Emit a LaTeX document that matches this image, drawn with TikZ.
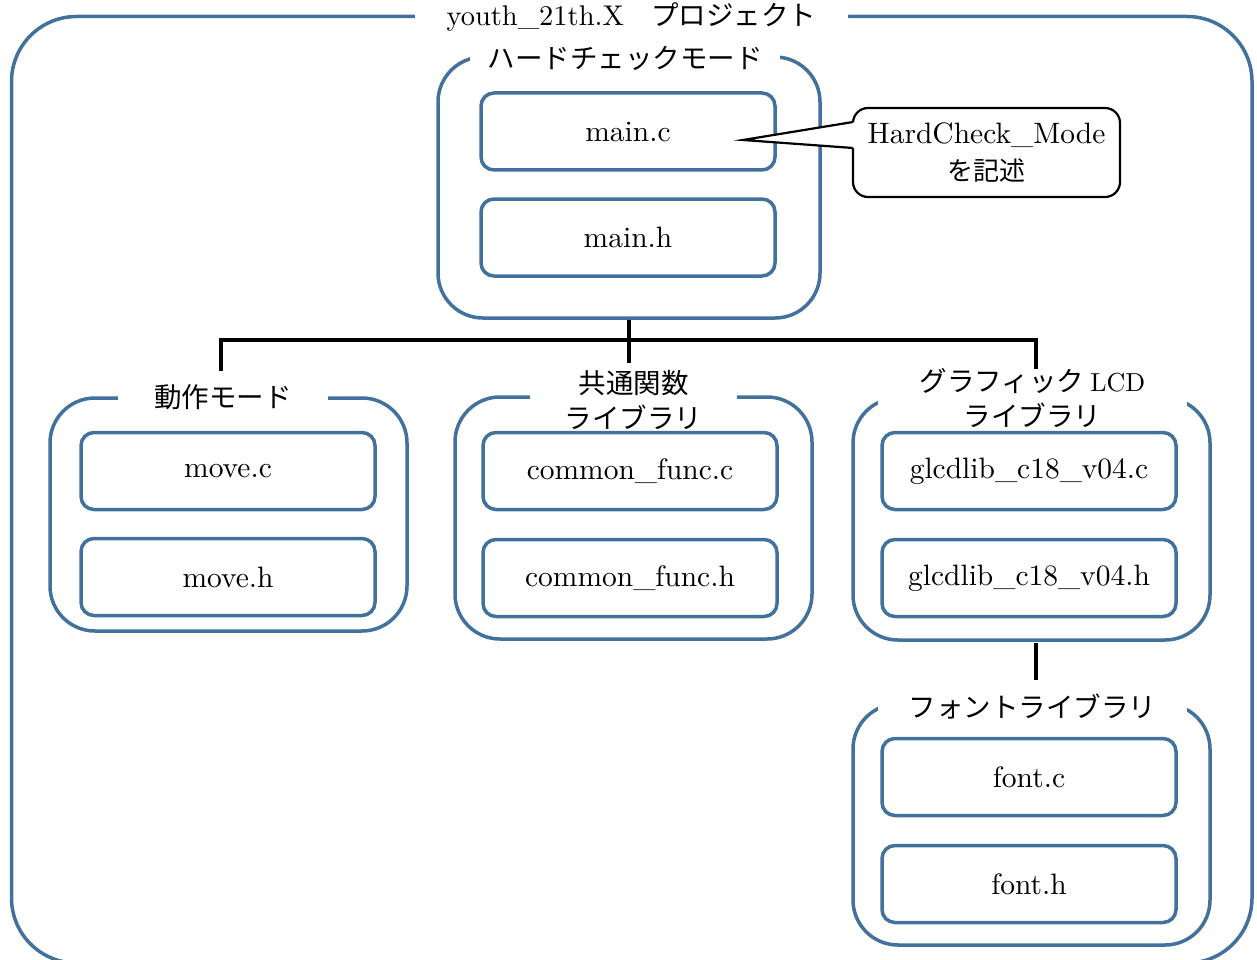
\documentclass[tikz,border=0pt]{standalone}
\usepackage{fontspec}
\setmainfont{lmroman10-regular}[Extension=.otf]
\newfontfamily\jp{Noto Sans CJK JP}
\definecolor{frameblue}{RGB}{65,113,156}
\begin{document}
\begin{tikzpicture}[x=1pt,y=-1pt,
  grp/.style={draw=frameblue, line width=3.5pt, rounded corners=45pt, inner sep=0pt},
  outerframe/.style={draw=frameblue, line width=3.5pt, rounded corners=65pt, inner sep=0pt},
  ttl/.style={fill=white, inner xsep=0pt, inner ysep=2pt, align=center,
    font=\jp\fontsize{27.5}{35}\selectfont, minimum width=#1},
  filebox/.style={draw=frameblue, line width=3.5pt, rounded corners=13pt,
    minimum width=294pt, minimum height=77pt, inner sep=0pt,
    font=\rmfamily\fontsize{29.5}{35}\selectfont},
  tree/.style={draw=black, line width=3.5pt},
  callout/.style={draw=black, line width=2.2pt, rounded corners=15pt, fill=white,
    minimum width=267pt, minimum height=89pt, inner sep=0pt, align=center,
    font=\rmfamily\fontsize{29.5}{37}\selectfont}
]
\useasboundingbox (0,0) rectangle (1257,960);

% outer project frame
\node[outerframe, minimum width=1240.5pt, minimum height=946.5pt] (proj) at (631.75,489.75) {};

% groups
\node[grp, minimum width=382pt, minimum height=261pt] (hc) at (629,187.5) {};
\node[grp, minimum width=357pt, minimum height=233pt] (mode) at (228.5,514.5) {};
\node[grp, minimum width=357pt, minimum height=242pt] (com) at (633.5,518) {};
\node[grp, minimum width=357pt, minimum height=242pt] (lcd) at (1031.5,519) {};
\node[grp, minimum width=357pt, minimum height=241pt] (fnt) at (1031.5,824.5) {};

% titles (white background opens a gap in the frames)
\node[ttl=433pt] (projT) at (631.5,17) {{\rmfamily\fontsize{28.5}{32}\selectfont youth\_21th.X}　プロジェクト};
\node[ttl=310pt] (hcT) at (625,58) {ハードチェックモード};
\node[ttl=210pt] (modeT) at (223,397) {動作モード};
\node[ttl=207pt] (comT) at (633.5,399.5) {共通関数\\ライブラリ};
\node[ttl=309pt] (lcdT) at (1032.5,398.5) {グラフィック {\rmfamily\fontsize{26}{35}\selectfont LCD}\\ライブラリ};
\node[ttl=309pt] (fntT) at (1032.5,707) {フォントライブラリ};

% files
\node[filebox] (mainc) at (628,131.5) {main.c};
\node[filebox] (mainh) at (628,237.5) {main.h};
\node[filebox] (movec) at (228,471) {move.c};
\node[filebox] (moveh) at (228,577) {move.h};
\node[filebox] (comc) at (630,471) {common\_func.c};
\node[filebox] (comh) at (630,578) {common\_func.h};
\node[filebox] (glc) at (1029,471) {glcdlib\_c18\_v04.c};
\node[filebox] (glh) at (1029,578) {glcdlib\_c18\_v04.h};
\node[filebox] (fc) at (1029,777) {font.c};
\node[filebox] (fh) at (1029,884) {font.h};

% tree connectors
\coordinate (jL) at (221,340);
\coordinate (jR) at (1036,340);
\coordinate (dL) at (221,371);
\coordinate (dM) at (hc.south |- 0,363);
\coordinate (dR) at (1036,369);
\draw[tree] (hc.south) -- (dM);
\draw[tree] (dL) -- (jL) -- (jR) -- (dR);
\coordinate (lf1) at (1036,643);
\coordinate (lf2) at (1036,680);
\draw[tree] (lf1) -- (lf2);

% callout
\node[callout] (note) at (986.5,152.5) {HardCheck\_Mode\\{\jp\fontsize{26}{37}\selectfont を記述}};
\coordinate (tip) at (743,140);
\coordinate (ca) at (853,122);
\coordinate (cb) at (853,148);
\fill[white] (tip) -- ([xshift=2.5pt]ca) -- ([xshift=2.5pt]cb) -- cycle;
\draw[black, line width=2.2pt, line join=miter] (ca) -- (tip) -- (cb);
\end{tikzpicture}
\end{document}
